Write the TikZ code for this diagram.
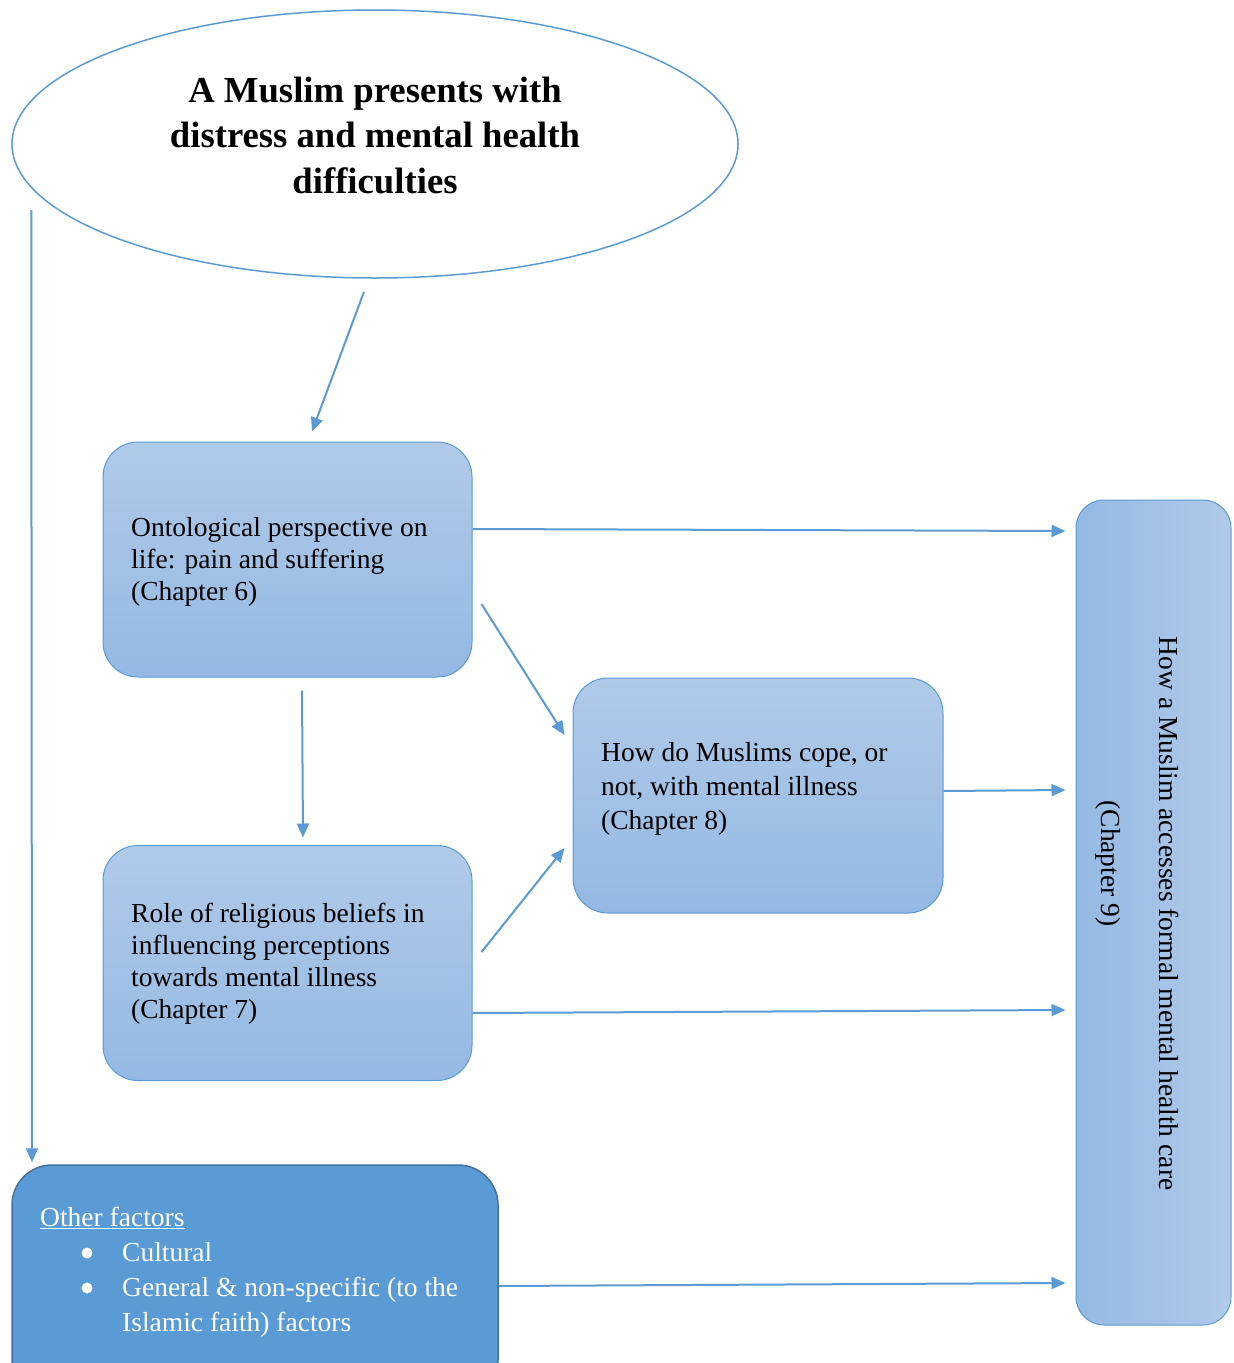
\documentclass[tikz,border=0pt]{standalone}
\usepackage{fontspec}
\setmainfont{Liberation Serif}
\usetikzlibrary{shapes.geometric,arrows.meta,calc}
\definecolor{accent}{RGB}{91,155,213}
\definecolor{accentdark}{RGB}{65,113,156}
\definecolor{gradlight}{RGB}{176,202,233}
\definecolor{graddark}{RGB}{149,185,227}
\begin{document}
\begin{tikzpicture}[x=1pt,y=-1pt,
  arr/.style={draw=accent,line width=2pt,-{Triangle[length=14pt,width=12pt]}},
  chapbox/.style={draw=accent,line width=1pt,rounded corners=35pt,
    top color=gradlight,bottom color=graddark,minimum width=369pt,
    minimum height=235pt,inner sep=0pt},
  boxtext/.style={anchor=west,align=left,inner sep=0pt,
    font=\fontsize{27.5pt}{32pt}\selectfont},
  listdot/.style={fill=white}]
\useasboundingbox (0,0) rectangle (1234,1363);
\clip (0,0) rectangle (1234,1363);
\fill[white] (0,0) rectangle (1234,1363);

% starting point
\node (ell) [ellipse,draw=accent,line width=1.5pt,minimum width=726pt,
  minimum height=268pt,inner sep=0pt] at (375,144) {};
\node (elltxt) [align=center,font=\fontsize{36.7pt}{45.5pt}\selectfont\bfseries]
  at (375,135) {A Muslim presents with\\distress and mental health\\difficulties};

% chapter boxes
\node (b1) [chapbox] at (287.5,559.5) {};
\node (b1txt) [boxtext] at (131,562)
  {Ontological perspective on\\life: pain and suffering\\(Chapter 6)};
\node (b2) [chapbox] at (287.5,963) {};
\node (b2txt) [boxtext] at (131,964)
  {Role of religious beliefs in\\influencing perceptions\\towards mental illness\\(Chapter 7)};
\node (b3) [chapbox,minimum width=370pt] at (758,795.5) {};
\node (b3txt) [boxtext,font=\fontsize{27.5pt}{34pt}\selectfont] at (601,789)
  {How do Muslims cope, or\\not, with mental illness\\(Chapter 8)};

% access to care
\node (rb) [draw=accent,line width=1pt,rounded corners=28pt,left color=graddark,
  right color=gradlight,minimum width=155pt,minimum height=825pt,inner sep=0pt]
  at (1153.5,912.5) {};
\node (rbtxt1) [rotate=-90,inner sep=0pt,font=\fontsize{27.5pt}{32pt}\selectfont]
  at (1169,913.5) {How a Muslim accesses formal mental health care};
\node (rbtxt2) [rotate=-90,inner sep=0pt,font=\fontsize{27.5pt}{32pt}\selectfont]
  at (1108,863.5) {(Chapter 9)};

% other factors
\node (ob) [draw=accentdark,line width=1.5pt,rounded corners=40pt,fill=accent,
  minimum width=486pt,minimum height=235pt,inner sep=0pt] at (255,1282.5) {};
\node (obtxt) [anchor=north west,inner sep=0pt,text=white,
  font=\fontsize{27.5pt}{35pt}\selectfont] at (40,1202)
  {\begin{tabular}{@{\hspace{82pt}}l@{}}
   \multicolumn{1}{@{}l}{\underline{Other factors}}\\
   Cultural\\
   General \& non-specific (to the\\
   Islamic faith) factors
   \end{tabular}};
% list bullets
\fill[listdot] (87,1253) circle (5.5pt);
\fill[listdot] (87,1288) circle (5.5pt);

% connectors
\draw[arr] ([xshift=-11pt,yshift=-13pt]ell.south) -- ([xshift=24.5pt,yshift=10pt]b1.north);
\draw[arr] ([xshift=20pt,yshift=-66pt]ell.west) -- ([xshift=-223pt,yshift=2pt]ob.north);
\draw[arr] ([yshift=30.5pt]b1.east) -- ([xshift=-10pt,yshift=381.5pt]rb.west);
\draw[arr] ([xshift=9pt,yshift=-44.5pt]b1.east) -- ([xshift=-8pt,yshift=60.5pt]b3.west);
\draw[arr] ([xshift=14.5pt,yshift=-13pt]b1.south) -- ([xshift=15.5pt,yshift=7.5pt]b2.north);
\draw[arr] ([xshift=9pt,yshift=11pt]b2.east) -- ([xshift=-8pt,yshift=-52.5pt]b3.west);
\draw[arr] ([yshift=4.5pt]b3.east) -- ([xshift=-10pt,yshift=122.5pt]rb.west);
\draw[arr] ([yshift=-50pt]b2.east) -- ([xshift=-10pt,yshift=-97.5pt]rb.west);
\draw[arr] ([yshift=-3.5pt]ob.east) -- ([xshift=-10pt,yshift=-370.5pt]rb.west);
\end{tikzpicture}
\end{document}
